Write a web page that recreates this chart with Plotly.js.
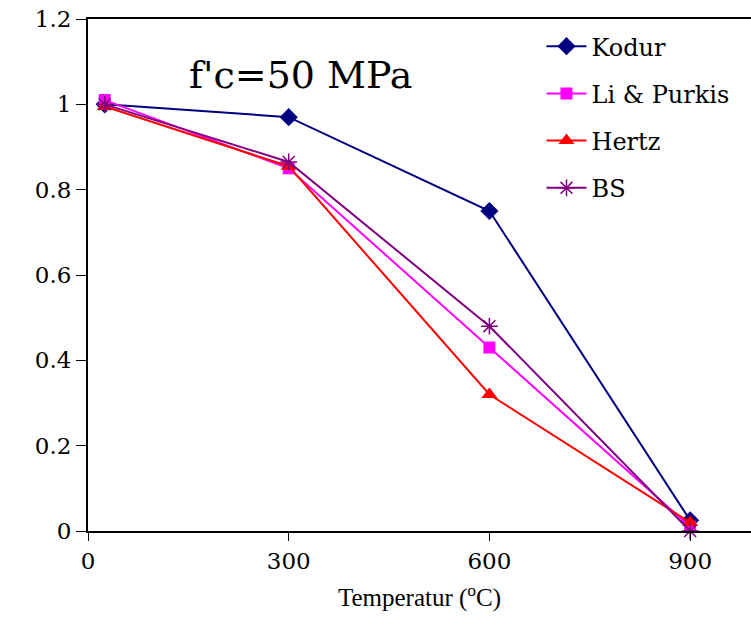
<!DOCTYPE html>
<html><head><meta charset="utf-8">
<script src="https://cdn.plot.ly/plotly-3.0.1.min.js"></script>
<style>
body{margin:0;padding:0;}
#chart{width:751px;height:632px;}
</style>
</head><body><div id="chart"></div>
<script>
const temps = [25, 300, 600, 900];
const kodur = [1.0, 0.97, 0.75, 0.025];
const liPurkis = [1.01, 0.85, 0.43, 0.01];
const hertz = [0.995, 0.855, 0.32, 0.02];
const bs = [1.0, 0.865, 0.48, 0.0];
const seriesNames = ['Kodur', 'Li &amp; Purkis', 'Hertz', 'BS'];
const xTicks = [0, 300, 600, 900];
const yTicks = [0, 0.2, 0.4, 0.6, 0.8, 1, 1.2];
const yTickText = ['0', '0.2', '0.4', '0.6', '0.8', '1', '1.2'];

const font = 'DejaVu Serif';
function tr(name, y, color, symbol, size, lw) {
  return {x: temps, y: y, name: name, legendgroup: name, type: 'scatter', mode: 'lines+markers',
    line: {color: color, width: 2}, cliponaxis: false,
    marker: {symbol: symbol, size: size, color: color, line: {color: color, width: lw}}};
}
const data = [
  tr(seriesNames[0], kodur, '#000080', 'diamond', 14, 0),
  tr(seriesNames[1], liPurkis, '#FF00FF', 'square', 12, 0),
  tr(seriesNames[2], hertz, '#FF0000', 'triangle-up', 14, 0),
  tr(seriesNames[3], bs, '#800080', 'asterisk-open', 14, 1.5)
];
const layout = {
  width: 751, height: 632,
  margin: {l: 88, r: 0, t: 19, b: 101},
  paper_bgcolor: 'white', plot_bgcolor: 'white',
  font: {family: font, color: 'black', size: 23},
  showlegend: true,
  legend: {x: 0.684, y: 0.99, xanchor: 'left', yanchor: 'top', bgcolor: 'rgba(0,0,0,0)',
    font: {family: font, size: 24}, tracegroupgap: 13, itemwidth: 40},
  xaxis: {range: [0, 991], tickvals: xTicks, ticktext: xTicks.map(String),
    showgrid: false, zeroline: false, showline: true, linecolor: 'black', linewidth: 2,
    mirror: true, ticks: 'outside', ticklen: 8, tickwidth: 1, tickcolor: 'black',
    tickfont: {family: font, size: 23},
    title: {text: 'Temperatur (<sup>o</sup>C)', font: {family: 'Liberation Serif', size: 25}, standoff: 16}},
  yaxis: {range: [0, 1.2], tickvals: yTicks, ticktext: yTickText,
    showgrid: false, zeroline: false, showline: true, linecolor: 'black', linewidth: 2,
    ticks: 'outside', ticklen: 10, tickwidth: 1, tickcolor: 'black',
    tickfont: {family: font, size: 23}},
  annotations: [{text: "f'c=50 MPa", xref: 'paper', yref: 'paper', x: 0.15, y: 0.89,
    xanchor: 'left', yanchor: 'middle', showarrow: false,
    font: {family: font, size: 38, color: 'black'}}]
};
Plotly.newPlot('chart', data, layout, {displayModeBar: false});
</script></body></html>
